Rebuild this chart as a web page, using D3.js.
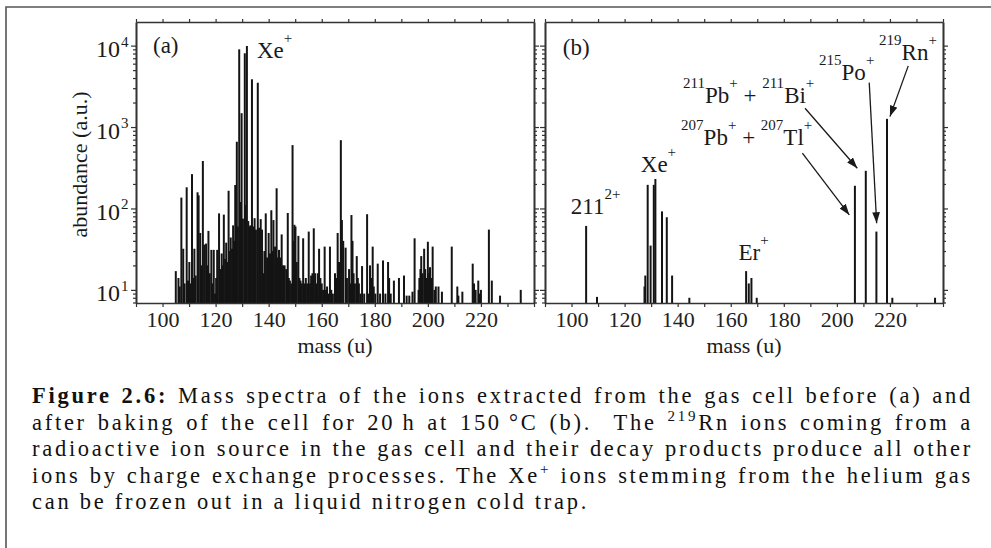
<!DOCTYPE html>
<html><head><meta charset="utf-8">
<script src="https://cdn.jsdelivr.net/npm/d3@7/dist/d3.min.js"></script>
<style>body{margin:0;background:#fff}svg{display:block}</style>
</head><body>
<svg id="c" width="991" height="548"></svg>
<script>
// ---------- data ----------
const massTicks = [90,100,110,120,130,140,150,160,170,180,190,200,210,220,230,240];
const massLabels = [100,120,140,160,180,200,220];
const yMajorTicks = [10,100,1000,10000];
const yMajorExp = [1,2,3,4];
const yMinorTicks = [7,8,9,20,30,40,50,60,70,80,90,200,300,400,500,600,700,800,900,2000,3000,4000,5000,6000,7000,8000,9000];

// panel (a): before baking
const massA = [105.0,106.0,106.5,107.1,107.8,108.3,109.1,109.6,110.1,110.6,111.1,111.6,112.0,112.5,113.2,113.6,114.2,114.7,115.2,115.7,116.4,116.9,117.3,117.8,118.4,118.8,119.3,119.8,120.2,120.6,121.3,121.8,122.3,122.7,123.1,123.6,124.0,124.5,124.9,125.3,125.7,126.2,126.6,127.0,127.4,127.7,128.0,128.4,128.9,129.3,129.8,130.3,131.0,131.4,131.8,132.3,132.7,133.1,133.7,134.2,134.7,135.2,135.9,136.4,137.0,137.5,138.0,138.4,138.9,139.4,140.0,140.5,141.0,141.4,141.8,142.4,143.0,143.5,143.9,144.4,144.9,145.4,146.0,146.6,147.2,147.6,148.0,148.5,149.0,149.4,149.7,150.1,150.6,151.2,151.6,152.0,152.5,153.0,153.5,154.0,154.5,155.1,155.6,156.0,156.5,157.0,157.5,158.0,158.5,159.0,159.5,160.0,160.5,161.1,161.6,162.0,162.5,163.1,163.6,164.2,165.0,165.5,166.0,166.5,167.2,167.6,168.1,169.0,169.5,170.3,170.7,171.2,171.6,172.0,172.5,173.2,173.6,174.0,174.6,175.2,176.0,177.1,177.6,178.2,178.7,179.2,179.6,180.2,181.1,182.0,183.1,184.0,185.0,185.4,186.0,187.2,189.1,191.0,192.0,193.0,194.2,195.0,196.5,196.8,197.2,197.5,198.0,198.6,199.0,199.5,200.0,200.4,200.8,201.3,201.8,202.5,203.0,204.0,205.3,209.0,211.1,211.5,213.0,216.9,217.4,218.0,219.0,219.5,220.0,223.0,224.1,227.2,235.0];
const abundA = [17,14,11,136,32,12,182,13,22,12,264,14,32,15,158,145,50,20,383,36,37,20,53,16,31,12,31,9,14,31,87,18,28,20,84,24,38,22,165,30,44,32,62,40,194,45,660,60,9000,120,1480,75,8050,110,9900,70,60,62,3860,60,76,55,3500,58,74,55,16,30,87,25,50,28,95,30,72,34,177,25,31,25,48,20,20,18,88,14,13,12,600,40,63,60,22,46,14,13,12,43,12,14,12,52,12,15,16,57,16,12,16,32,14,12,10,34,10,11,9,34,10,9,16,14,50,22,690,72,40,33,14,18,12,83,40,16,12,26,14,12,9,19.6,9,85,9,20,14,34,11,9,21,9,23,9,22,14,9,13,14,15,8.5,8.5,9.5,43,10,14,18,26,16,32,18,14,39,16,19,14,34,10,11,11,9.5,34,11,8.5,9.5,21,12,10,13,9,10,55,13,8.5,10];

// panel (b): after baking
const massB = [105.5,109.6,127.5,127.8,128.7,129.8,131.0,131.6,134.1,135.9,137.9,144.4,165.8,166.8,167.8,169.8,206.8,210.9,214.9,218.9,220.9,237.0];
const abundB = [61,8.2,11,15,195,35,195,230,92,78,15,8,17,12,14,8,190,290,52,1260,8,8];

// annotations (data coordinates: mass, abundance); "^" marks superscript
const labelsA = [
  {mass:96.4, value:8130, parts:["(a)"]},
  {mass:135.6, value:7063, parts:["Xe","^+"]}
];
const labelsB = [
  {mass:96.7, value:7690, parts:["(b)"]},
  {mass:99.7, value:85, parts:["211","^2+"]},
  {mass:126.1, value:284, parts:["Xe","^+"]},
  {mass:162.9, value:23.3, parts:["Er","^+"]},
  {mass:142.0, value:1977, parts:["^211","Pb","^+"," + ","^211","Bi","^+"]},
  {mass:141.3, value:604, parts:["^207","Pb","^+"," + ","^207","Tl","^+"]},
  {mass:193.3, value:3790, parts:["^215","Po","^+"]},
  {mass:215.9, value:6670, parts:["^219","Rn","^+"]}
];
const arrowsB = [
  {from:[188.0,1702], to:[207.7,312]},
  {from:[187.0,478], to:[204.7,83.4]},
  {from:[212.2,3513], to:[215.0,65.9]},
  {from:[226.9,5636], to:[220.0,1343]}
];

const captionLines = [
  [["b","Figure 2.6:"],["n"," Mass spectra of the ions extracted from the gas cell before (a) and"]],
  [["n","after baking of the cell for 20\u2009h at 150\u2009\u00b0C (b).  The "],["s","219"],["n","Rn ions coming from a"]],
  [["n","radioactive ion source in the gas cell and their decay products produce all other"]],
  [["n","ions by charge exchange processes. The Xe"],["s","+"],["n"," ions stemming from the helium gas"]],
  [["n","can be frozen out in a liquid nitrogen cold trap."]]
];

// ---------- drawing ----------
const SERIF = "'Liberation Serif','Times New Roman',serif";
const svg = d3.select("#c");
svg.append("rect").attr("width",991).attr("height",548).attr("fill","#fff");
svg.append("path").attr("d","M6,548 L6,7 L991,7").attr("fill","none")
  .attr("stroke","#555").attr("stroke-width",1.6);

svg.append("defs").append("marker").attr("id","ah")
  .attr("viewBox","0 0 10 7").attr("refX",10).attr("refY",3.5)
  .attr("markerWidth",11).attr("markerHeight",8).attr("markerUnits","userSpaceOnUse")
  .attr("orient","auto").append("path").attr("d","M0,0 L10,3.5 L0,7 Z").attr("fill","#1a1a1a");

const TOP = 22, BOTTOM = 303;
const y = d3.scaleLog().domain([6.9,19500]).range([BOTTOM, TOP]);

function richText(g, x0, y0, parts, size, supSize, rise) {
  const t = g.append("text").attr("x",x0).attr("y",y0)
    .attr("font-family",SERIF).attr("font-size",size).attr("fill","#1a1a1a")
    .style("white-space","pre");
  let shift = 0;
  parts.forEach(p => {
    const sup = p.startsWith("^");
    const s = sup ? p.slice(1) : p;
    const target = sup ? -rise : 0;
    t.append("tspan").attr("dy", target - shift).attr("font-size", sup ? supSize : size).text(s);
    shift = target;
  });
  return t;
}

const panels = [
  {x0:136, x1:534, mass:massA, abund:abundA, labels:labelsA, arrows:[], yLabels:true},
  {x0:545, x1:943, mass:massB, abund:abundB, labels:labelsB, arrows:arrowsB, yLabels:false}
];

panels.forEach(p => {
  const x = d3.scaleLinear().domain([90,240]).range([p.x0, p.x1]);
  const g = svg.append("g");
  g.append("g").selectAll("line").data(d3.zip(p.mass, p.abund)).join("line")
    .attr("x1", d => x(d[0])).attr("x2", d => x(d[0]))
    .attr("y1", y.range()[0]).attr("y2", d => y(d[1]))
    .attr("stroke","#141414").attr("stroke-width",2);

  const ax = (gen, tr) => {
    const a = g.append("g").attr("transform", tr).call(gen);
    a.select(".domain").attr("stroke","#333").attr("stroke-width",1.6);
    a.selectAll(".tick line").attr("stroke","#333").attr("stroke-width",1.2);
    return a;
  };
  const xb = ax(d3.axisBottom(x).tickValues(massTicks).tickSize(4).tickSizeOuter(0)
      .tickFormat(d => massLabels.includes(d) ? d : ""), `translate(0,${BOTTOM})`);
  xb.attr("font-family",SERIF).attr("font-size",22);
  xb.selectAll("text").attr("y",24).attr("dy",0).attr("fill","#222");
  ax(d3.axisTop(x).tickValues(massTicks).tickSize(3).tickSizeOuter(0).tickFormat(""), `translate(0,${TOP})`);
  ax(d3.axisLeft(y).tickValues(yMajorTicks).tickSize(5).tickSizeOuter(0).tickFormat(""), `translate(${p.x0},0)`);
  ax(d3.axisLeft(y).tickValues(yMinorTicks).tickSize(3).tickSizeOuter(0).tickFormat(""), `translate(${p.x0},0)`);
  ax(d3.axisRight(y).tickValues(yMajorTicks).tickSize(5).tickSizeOuter(0).tickFormat(""), `translate(${p.x1},0)`);
  ax(d3.axisRight(y).tickValues(yMinorTicks).tickSize(3).tickSizeOuter(0).tickFormat(""), `translate(${p.x1},0)`);

  g.append("text").attr("x",(p.x0+p.x1)/2).attr("y",353).attr("text-anchor","middle")
    .attr("font-family",SERIF).attr("font-size",22).attr("fill","#1a1a1a").text("mass (u)");

  if (p.yLabels) {
    yMajorTicks.forEach((v,i) => {
      g.append("text").attr("x",p.x0-16).attr("y",y(v)+11.5).attr("text-anchor","end")
        .attr("font-family",SERIF).attr("font-size",24).attr("fill","#1a1a1a").text("10");
      g.append("text").attr("x",p.x0-15).attr("y",y(v)+1).attr("text-anchor","start")
        .attr("font-family",SERIF).attr("font-size",15).attr("fill","#1a1a1a").text(yMajorExp[i]);
    });
    g.append("text").attr("transform",`translate(87,${(TOP+BOTTOM)/2+2}) rotate(-90)`)
      .attr("text-anchor","middle").attr("font-family",SERIF).attr("font-size",22)
      .attr("fill","#1a1a1a").text("abundance (a.u.)");
  }

  p.labels.forEach(l => richText(g, x(l.mass), y(l.value), l.parts, 23, 15, 15));
  p.arrows.forEach(a => {
    g.append("line").attr("x1",x(a.from[0])).attr("y1",y(a.from[1]))
      .attr("x2",x(a.to[0])).attr("y2",y(a.to[1]))
      .attr("stroke","#1a1a1a").attr("stroke-width",1.3).attr("marker-end","url(#ah)");
  });
});

// caption: slightly letter-spaced, justified by word spacing
const CAP_SIZE = 22.5, CAP_X = 32, CAP_W = 941, LAST_W = 557;
const capTexts = captionLines.map((line,i) => {
  const t = svg.append("text").attr("x",CAP_X).attr("y",403 + i*26.6)
    .attr("font-family",SERIF).attr("font-size",CAP_SIZE).attr("fill","#111")
    .style("white-space","pre");
  let shift = 0;
  line.forEach(([k,s]) => {
    const target = k === "s" ? -8.5 : 0;
    const ts = t.append("tspan").attr("dy", target - shift).text(s);
    if (k === "b") ts.attr("font-weight","bold");
    if (k === "s") ts.attr("font-size",15);
    shift = target;
  });
  return {t, str: line.map(d => d[1]).join("")};
});
const last = capTexts[capTexts.length-1];
const w0 = last.t.node().getBBox().width;
const ls = Math.max(0, (LAST_W - w0) / (last.str.length));
capTexts.forEach((c,i) => {
  c.t.style("letter-spacing", ls + "px");
  if (i < capTexts.length-1) {
    const w = c.t.node().getBBox().width;
    const nSp = (c.str.match(/ /g) || []).length;
    c.t.style("word-spacing", ((CAP_W - w) / nSp) + "px");
  }
});
</script>
</body></html>
